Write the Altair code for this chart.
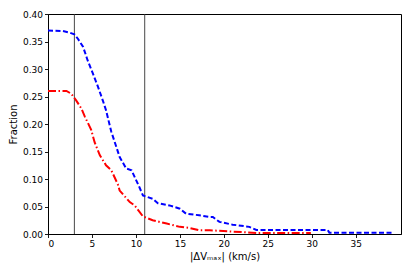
import altair as alt
import pandas as pd

blue_x = [0, 1.7, 2.5, 3.0, 3.4, 4.0, 4.5, 5.1, 5.7, 6.25, 6.6, 7.2, 8.15, 8.9, 9.5, 10.4, 10.8, 11.9, 12.5, 13.8, 15.0, 15.7, 17.2, 18.4, 18.75, 19.5, 21.0, 22.9, 23.7, 28.6, 31.8, 32.0, 39.2]
blue_y = [0.370, 0.369, 0.366, 0.363, 0.355, 0.340, 0.316, 0.292, 0.267, 0.242, 0.225, 0.186, 0.140, 0.119, 0.116, 0.085, 0.070, 0.064, 0.056, 0.052, 0.046, 0.037, 0.034, 0.031, 0.031, 0.022, 0.017, 0.013, 0.0075, 0.0075, 0.0075, 0.0025, 0.0025]

red_x = [0, 2.1, 2.65, 3.2, 3.8, 4.2, 4.9, 5.3, 5.9, 6.6, 7.2, 7.95, 8.15, 9.3, 9.85, 10.8, 11.9, 13.5, 15.0, 16.1, 17.2, 18.4, 23.7, 29.9]
red_y = [0.260, 0.260, 0.255, 0.243, 0.228, 0.213, 0.190, 0.167, 0.143, 0.125, 0.116, 0.090, 0.079, 0.058, 0.052, 0.032, 0.025, 0.019, 0.013, 0.011, 0.0067, 0.0067, 0.002, 0.002]

vlines = [3, 11]
x_ticks = [0, 5, 10, 15, 20, 25, 30, 35]
y_ticks = [0.0, 0.05, 0.10, 0.15, 0.20, 0.25, 0.30, 0.35, 0.40]

df_blue = pd.DataFrame({"x": blue_x, "y": blue_y, "o": range(len(blue_x))})
df_red = pd.DataFrame({"x": red_x, "y": red_y, "o": range(len(red_x))})
df_v = pd.DataFrame({"x": vlines})

xs = alt.Scale(domain=[0, 40.15], nice=False, zero=False)
ys = alt.Scale(domain=[0, 0.4], nice=False)

xax = alt.Axis(values=x_ticks, title="|ΔVₘₐₓ| (km/s)", grid=False, format="d", labelOverlap=False)
yax = alt.Axis(values=y_ticks, title="Fraction", grid=False, format=".2f", labelOverlap=False)

rules = alt.Chart(df_v).mark_rule(color="#333333", strokeWidth=0.9).encode(
    x=alt.X("x:Q", scale=xs, axis=xax),
)
blue = alt.Chart(df_blue).mark_line(color="#0000ff", strokeWidth=2, strokeDash=[5, 2.5], clip=True).encode(
    x=alt.X("x:Q", scale=xs, axis=xax),
    y=alt.Y("y:Q", scale=ys, axis=yax),
    order="o:Q",
)
red = alt.Chart(df_red).mark_line(color="#ff0000", strokeWidth=2, strokeDash=[8, 2.5, 1.5, 2.5], clip=True).encode(
    x=alt.X("x:Q", scale=xs, axis=xax),
    y=alt.Y("y:Q", scale=ys, axis=yax),
    order="o:Q",
)

chart = alt.layer(rules, blue, red).properties(
    width=353, height=220,
    padding={"left": 40, "top": 6, "right": 6, "bottom": 30},
    autosize="none",
).configure_view(stroke="black", strokeWidth=1).configure_axis(
    domainColor="black", tickColor="black", tickSize=3.5, domainWidth=1, tickWidth=0.9,
    labelFont="DejaVu Sans", titleFont="DejaVu Sans", labelFontSize=9, titleFontSize=10,
    titleFontWeight="normal", labelColor="black", titleColor="black", labelPadding=2,
    labelOverlap=False,
).configure_axisX(titlePadding=3).configure_axisY(titlePadding=4)

chart.save("out.html", embed_options={"renderer": "svg", "actions": False})
